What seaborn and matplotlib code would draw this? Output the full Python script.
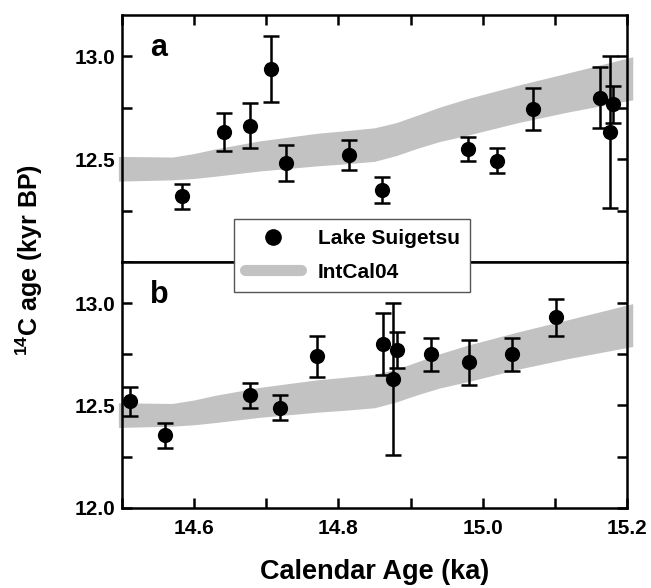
import matplotlib
matplotlib.use("Agg")
import matplotlib.pyplot as plt
from matplotlib.lines import Line2D
from matplotlib.ticker import MultipleLocator
import seaborn as sns
import pandas as pd

# ---- data ----
top_x = [14.583, 14.641, 14.678, 14.706, 14.727, 14.815, 14.861, 14.979, 15.020, 15.070, 15.163, 15.177, 15.181]
top_y = [12.319, 12.630, 12.662, 12.937, 12.481, 12.521, 12.350, 12.549, 12.492, 12.743, 12.799, 12.630, 12.767]
top_err = [0.062, 0.092, 0.109, 0.160, 0.089, 0.073, 0.061, 0.060, 0.062, 0.100, 0.148, 0.370, 0.090]

bot_x = [14.511, 14.560, 14.678, 14.719, 14.770, 14.862, 14.876, 14.881, 14.929, 14.981, 15.040, 15.101]
bot_y = [12.521, 12.355, 12.550, 12.490, 12.740, 12.800, 12.630, 12.770, 12.750, 12.710, 12.750, 12.930]
bot_err = [0.070, 0.061, 0.060, 0.060, 0.100, 0.149, 0.370, 0.089, 0.080, 0.110, 0.080, 0.089]

cal_x = [14.495, 14.57, 14.60, 14.63, 14.69, 14.77, 14.81, 14.85, 14.88, 14.91, 14.94, 14.98, 15.05, 15.12, 15.208]
cal_upper = [12.513, 12.510, 12.527, 12.550, 12.588, 12.625, 12.638, 12.652, 12.677, 12.714, 12.752, 12.795, 12.860, 12.920, 12.997]
cal_lower = [12.393, 12.399, 12.406, 12.417, 12.442, 12.467, 12.477, 12.489, 12.517, 12.553, 12.585, 12.617, 12.678, 12.730, 12.788]

panel_labels = ["a", "b"]
series_names = ["Lake Suigetsu", "IntCal04"]

sns.set_theme(style="ticks")
plt.rcParams["font.family"] = ["Liberation Sans", "DejaVu Sans"]
plt.rcParams["font.weight"] = "bold"
plt.rcParams["text.color"] = "black"
plt.rcParams["axes.labelcolor"] = "black"
plt.rcParams["xtick.color"] = "black"
plt.rcParams["ytick.color"] = "black"
plt.rcParams["mathtext.fontset"] = "custom"
plt.rcParams["mathtext.rm"] = "Liberation Sans:bold"
plt.rcParams["mathtext.bf"] = "Liberation Sans:bold"

band_color = "#c2c2c2"
fig = plt.figure(figsize=(6.51, 5.88), dpi=100)
ax_top = fig.add_axes([0.1874, 0.5544, 0.7757, 0.4201])
ax_bot = fig.add_axes([0.1874, 0.1361, 0.7757, 0.4183])

datasets = [(ax_top, top_x, top_y, top_err), (ax_bot, bot_x, bot_y, bot_err)]
for i, (ax, xs, ys, es) in enumerate(datasets):
    ax.fill_between(cal_x, cal_lower, cal_upper, color=band_color, lw=0, zorder=1, clip_on=False)
    ax.errorbar(xs, ys, yerr=es, fmt="none", ecolor="black", elinewidth=1.8,
                capsize=5.8, capthick=1.8, zorder=3, clip_on=False)
    df = pd.DataFrame({"x": xs, "y": ys})
    sns.scatterplot(data=df, x="x", y="y", ax=ax, color="black", s=120,
                    edgecolor="black", linewidth=0, zorder=4, clip_on=False)
    ax.set_xlim(14.5, 15.2)
    ax.set_ylim(12.0, 13.2)
    ax.xaxis.set_major_locator(MultipleLocator(0.2))
    ax.xaxis.set_minor_locator(MultipleLocator(0.1))
    ax.yaxis.set_major_locator(MultipleLocator(0.5))
    ax.yaxis.set_minor_locator(MultipleLocator(0.25))
    ax.set_xlabel("")
    ax.set_ylabel("")
    for s in ax.spines.values():
        s.set_linewidth(1.8)
        s.set_color("black")
        s.set_visible(True)
    ax.tick_params(which="both", direction="in", width=1.8, length=7, colors="black",
                   labelcolor="black", labelsize=15, left=True, right=True)
    ax.tick_params(axis="y", which="both", pad=5)
    ax.tick_params(axis="x", which="both", pad=8)
    ax.text(0.073, 0.835, panel_labels[i], transform=ax.transAxes, ha="center",
            va="baseline", fontsize=22, fontweight="bold", color="black")

ax_top.tick_params(axis="x", which="both", top=True, bottom=False, labelbottom=False)
ax_bot.tick_params(axis="x", which="both", top=False, bottom=True)
ax_top.set_yticks([12.5, 13.0])
ax_top.set_yticklabels(["12.5", "13.0"])
ax_top.set_yticks([12.0, 12.25, 12.75], minor=True)
ax_bot.set_yticks([12.0, 12.5, 13.0])
ax_bot.set_yticklabels(["12.0", "12.5", "13.0"])
for ax in (ax_top, ax_bot):
    for lab in ax.get_xticklabels() + ax.get_yticklabels():
        lab.set_fontweight("bold")
        lab.set_color("black")

fig.text(0.045, 0.558, r"$^{14}$C age (kyr BP)", rotation=90, ha="center", va="center",
         fontsize=18, fontweight="bold", color="black")
fig.text(0.576, 0.028, "Calendar Age (ka)", ha="center", va="center",
         fontsize=19.5, fontweight="bold", color="black")

handles = [
    Line2D([], [], marker="o", color="black", markersize=11, linestyle="none"),
    Line2D([], [], color=band_color, linewidth=8, solid_capstyle="round"),
]
leg = fig.legend(handles, series_names, loc="center",
                 bbox_to_anchor=(0.373, 0.5017, 0.336, 0.1276),
                 prop={"family": "Liberation Sans", "weight": "bold", "size": 15},
                 handlelength=2.7, handletextpad=0.8, labelspacing=0.7,
                 borderpad=0.5, fancybox=False, framealpha=1, edgecolor="#555555")
leg.get_frame().set_linewidth(1.0)
leg.set_zorder(10)
for t in leg.get_texts():
    t.set_color("black")

fig.savefig("out.png", dpi=100)
